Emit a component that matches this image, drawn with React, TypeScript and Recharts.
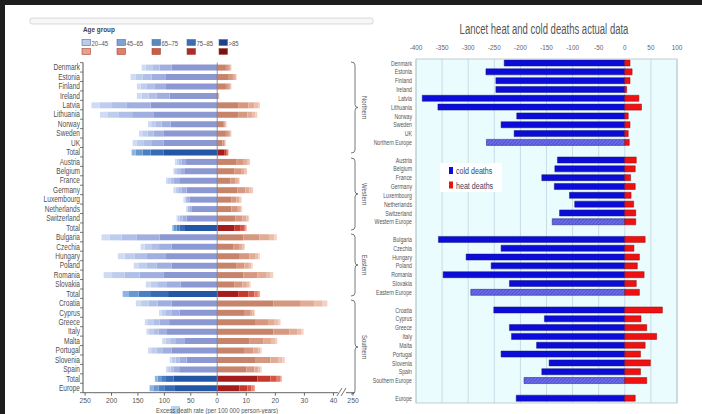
import React from "react";
import { BarChart, Bar, XAxis, YAxis, Cell, ReferenceLine, CartesianGrid, Legend } from "recharts";

const FONT = "'Liberation Sans', Arial, sans-serif";

// ---- left panel: excess deaths per 100 000 by age group ----
const countries = [
    "Denmark", "Estonia", "Finland", "Ireland", "Latvia", "Lithuania", "Norway", "Sweden", "UK", "Total",
    "Austria", "Belgium", "France", "Germany", "Luxembourg", "Netherlands", "Switzerland", "Total",
    "Bulgaria", "Czechia", "Hungary", "Poland", "Romania", "Slovakia", "Total",
    "Croatia", "Cyprus", "Greece", "Italy", "Malta", "Portugal", "Slovenia", "Spain", "Total",
    "Europe",
];
const ageGroups = ["20–45", "45–65", "65–75", "75–85", ">85"];

// cold (per age group, >85 is nearest zero)
const cold85 = [86, 97, 97, 90, 126, 121, 88, 102, 101, 101, 59, 61, 72, 58, 52, 49, 58, 61, 109, 86, 97, 86, 102, 69, 93, 86, 71, 91, 95, 61, 86, 58, 72, 83, 80];
const cold75 = [23, 27, 22, 25, 45, 40, 17, 18, 24, 25, 8, 9, 10, 10, 5, 4, 8, 10, 44, 24, 36, 29, 45, 26, 34, 27, 16, 18, 16, 17, 18, 13, 10, 14, 19];
const cold65 = [14, 17, 14, 15, 28, 25, 11, 12, 15, 15, 6, 6, 6, 6, 3, 3, 5, 6, 28, 15, 23, 18, 28, 17, 22, 17, 10, 12, 10, 11, 11, 8, 6, 9, 12];
const cold45 = [12, 14, 12, 13, 24, 22, 9, 10, 12, 13, 4, 4, 5, 5, 2, 2, 4, 5, 23, 12, 19, 15, 24, 14, 18, 14, 8, 10, 8, 9, 10, 7, 5, 7, 10];
const cold20 = [8, 9, 7, 9, 15, 14, 6, 6, 8, 8, 3, 3, 4, 4, 2, 1, 2, 3, 15, 8, 13, 10, 16, 9, 12, 10, 5, 6, 5, 6, 6, 4, 4, 5, 7];

// heat
const heat85 = [3.0, 4.0, 3.0, 0.4, 7.2, 7.2, 2.0, 3.0, 1.8, 2.4, 6.5, 6.0, 4.5, 7.0, 4.8, 4.9, 6.3, 6.0, 9.0, 5.5, 7.5, 6.5, 9.0, 6.0, 7.2, 19.3, 9.5, 13, 19.3, 11, 9.2, 13, 10, 13.8, 7.6];
const heat75 = [1.0, 1.4, 1.0, 0.15, 3.5, 3.2, 0.6, 1.0, 0.6, 0.8, 2.4, 2.2, 1.7, 2.7, 1.8, 1.9, 2.4, 2.1, 5.5, 2.0, 3.5, 2.8, 4.8, 2.7, 3.6, 9.2, 1.8, 4.5, 5.5, 5.0, 3.2, 5.3, 2.8, 4.5, 2.8];
const heat65 = [0.5, 0.7, 0.5, 0.08, 2.0, 1.8, 0.3, 0.5, 0.3, 0.4, 1.3, 1.1, 0.9, 1.4, 1.0, 1.0, 1.3, 1.1, 3.3, 1.1, 2.0, 1.6, 3.0, 1.5, 2.0, 5.0, 0.9, 2.3, 2.7, 2.5, 1.6, 2.7, 1.4, 2.2, 1.4];
const heat45 = [0.3, 0.4, 0.3, 0.05, 1.3, 1.0, 0.2, 0.3, 0.15, 0.2, 0.7, 0.6, 0.5, 0.8, 0.5, 0.5, 0.6, 0.6, 1.8, 0.6, 1.1, 0.8, 1.6, 0.8, 1.2, 2.8, 0.5, 1.3, 1.4, 1.4, 0.8, 1.5, 0.7, 1.1, 0.8];
const heat20 = [0.1, 0.2, 0.1, 0.02, 0.7, 0.6, 0.1, 0.1, 0.05, 0.1, 0.4, 0.4, 0.2, 0.5, 0.3, 0.3, 0.4, 0.3, 0.9, 0.3, 0.6, 0.5, 0.9, 0.5, 0.7, 1.6, 0.3, 0.7, 0.8, 0.8, 0.5, 0.8, 0.4, 0.6, 0.4];

const coldTicks = [250, 200, 150, 100, 50, 0];
const heatTicks = [10, 20, 30, 40];
const breakTickLabel = "250";

// ---- right panel: Lancet heat and cold deaths actual data ----
const regions = [
    "Denmark", "Estonia", "Finland", "Ireland", "Latvia", "Lithuania", "Norway", "Sweden", "UK", "Northern Europe", "",
    "Austria", "Belgium", "France", "Germany", "Luxembourg", "Netherlands", "Switzerland", "Western Europe", "",
    "Bulgaria", "Czechia", "Hungary", "Poland", "Romania", "Slovakia", "Eastern Europe", "",
    "Croatia", "Cyprus", "Greece", "Italy", "Malta", "Portugal", "Slovenia", "Spain", "Southern Europe", "",
    "Europe",
];
const coldDeaths = [-231, -266, -247, -247, -388, -358, -207, -237, -212, -265, null, -129, -134, -159, -135, -106, -96, -125, -139, null, -357, -237, -304, -256, -348, -221, -295, null, -251, -154, -221, -217, -169, -237, -145, -159, -193, null, -208];
const heatDeaths = [10, 14, 10, 3.5, 27, 32, 6.6, 10, 6.6, 8.6, null, 22, 20, 11, 20, 12, 17, 21, 21, null, 39, 17.5, 28, 24, 37, 22, 28, null, 72, 31, 42, 61, 39, 30, 49, 30, 42, null, 20];
const rightTicks = [-400, -350, -300, -250, -200, -150, -100, -50, 0, 50, 100];

// broken axis: heat side drawn 5.5x wider than cold side
const HEAT_SCALE = 5.5;
const BREAK_POS = 257;

const coldSoft = ["#8c98d2", "#a0aee0", "#afbfe8", "#becdee", "#cfdbf3"];
const coldStrong = ["#2456a6", "#386ab6", "#4b7fc3", "#6898d2", "#90b4e0"];
const heatSoft = ["#c8846a", "#d69880", "#e2ab95", "#ebbdab", "#f3d0c3"];
const heatStrong = ["#a51c1c", "#c4382c", "#d65646", "#e47a6a", "#eea497"];
const legendBlue = ["#b9cde9", "#7ea3d2", "#5a88c0", "#3d6cb0", "#1f3f8f"];
const legendRed = ["#eaa088", "#e07e66", "#cf5a48", "#b02a28", "#7a1212"];

const coldSeries = [cold85, cold75, cold65, cold45, cold20];
const heatSeries = [heat85, heat75, heat65, heat45, heat20];

const leftData = countries.map((name, i) => {
    const row: any = { id: i, name };
    coldSeries.forEach((s, k) => { row["c" + k] = -s[i]; });
    heatSeries.forEach((s, k) => { row["h" + k] = s[i] * HEAT_SCALE; });
    return row;
});
const leftTickPos = [...coldTicks.map((v) => -v), ...heatTicks.map((v) => v * HEAT_SCALE), BREAK_POS];
const leftTickLabels = [...coldTicks.map(String), ...heatTicks.map(String), breakTickLabel];

const rightData = regions.map((name, i) => ({ id: i, name, cold: coldDeaths[i], heat: heatDeaths[i] }));

const isTotal = (name: string) => name === "Total" || name === "Europe";
const isAggregate = (name: string) => name.endsWith(" Europe");

// narrow text: the figure uses a condensed face, squeeze a normal one
function NText(props: any) {
    const { x, y, size, fill = "#555", anchor = "start", sx = 0.8, weight, children } = props;
    return (
        <text transform={`translate(${x},${y}) scale(${sx},1)`} textAnchor={anchor} fontSize={size}
            fill={fill} fontFamily={FONT} fontWeight={weight}>{children}</text>
    );
}

function LeftTick(props: any) {
    const { x, y, payload } = props;
    const ax = x + 3;
    return (
        <g>
            <NText x={x} y={y + 3} anchor="end" size={8.2} fill="#505050" sx={0.8}>{countries[payload.value]}</NText>
            <line x1={ax - 3} x2={ax} y1={y - 4.7} y2={y - 4.7} stroke="#555" strokeWidth={0.8} />
            {payload.value === countries.length - 1 && (
                <line x1={ax - 3} x2={ax} y1={y + 4.7} y2={y + 4.7} stroke="#555" strokeWidth={0.8} />
            )}
        </g>
    );
}

function RightTick(props: any) {
    const { x, y, payload } = props;
    return <NText x={x} y={y + 2.2} anchor="end" size={6.5} fill="#555" sx={0.8}>{regions[payload.value]}</NText>;
}

function BottomTick(props: any) {
    const { x, y, index } = props;
    return <NText x={x} y={y + 6} anchor="middle" size={8} fill="#555" sx={0.85}>{leftTickLabels[index]}</NText>;
}

function TopTick(props: any) {
    const { x, y, payload } = props;
    return <NText x={x} y={y - 1} anchor="middle" size={7.5} fill="#666" sx={0.85}>{payload.value}</NText>;
}

function RightLegend() {
    return (
        <svg width={80} height={29} style={{ display: "block", overflow: "visible" }}>
            <rect x={0} y={0} width={62} height={29} fill="#fff" />
            <rect x={9} y={4} width={4} height={7} fill="#0c0cd9" />
            <NText x={16} y={11} size={9.5} fill="#3a3f66" sx={0.75}>cold deaths</NText>
            <rect x={9} y={18.5} width={4} height={7} fill="#ee1111" />
            <NText x={16} y={25.5} size={9.5} fill="#3a3f66" sx={0.75}>heat deaths</NText>
        </svg>
    );
}

function Brace(props: { y1: number; y2: number; label: string }) {
    const { y1, y2, label } = props;
    const x0 = 351, x1 = 355, x2 = 358, r = 3;
    const ym = (y1 + y2) / 2;
    const d = `M${x0},${y1} Q${x1},${y1} ${x1},${y1 + r} L${x1},${ym - r} Q${x1},${ym} ${x2},${ym} Q${x1},${ym} ${x1},${ym + r} L${x1},${y2 - r} Q${x1},${y2} ${x0},${y2}`;
    return (
        <g>
            <path d={d} fill="none" stroke="#555" strokeWidth={0.8} />
            <g transform={`rotate(90 364 ${ym})`}>
                <NText x={364} y={ym + 2.5} anchor="middle" size={7} fill="#555" sx={0.85}>{label}</NText>
            </g>
        </g>
    );
}

export default function App() {
    const legendX = [82, 117, 152, 187, 219];
    return (
        <div style={{ position: "absolute", left: 0, top: 0, width: 702, height: 414, background: "#fff", overflow: "hidden" }}>
            <div style={{ position: "absolute", left: 0, top: 0, width: 702, height: 5, background: "#1e1e1e" }} />
            <div style={{ position: "absolute", left: 0, top: 0, width: 5, height: 414, background: "#1e1e1e" }} />

            <div style={{ position: "absolute", left: 0, top: 0 }}>
                <BarChart width={380} height={414} data={leftData} layout="vertical" stackOffset="sign"
                    margin={{ top: 62.6, right: 25.4, bottom: 7.3, left: 0 }} barSize={6}>
                    <XAxis type="number" domain={[-254, 260]} ticks={leftTickPos} allowDataOverflow height={14}
                        interval={0} tick={<BottomTick />} tickSize={3} tickMargin={1} stroke="#666" />
                    <YAxis type="category" dataKey="id" width={83} interval={0} tickLine={false} tickSize={0} tickMargin={3}
                        axisLine={{ stroke: "#555" }} tick={<LeftTick />} />
                    <ReferenceLine x={0} stroke="#777" strokeWidth={0.8} />
                    {coldSeries.map((_, k) => (
                        <Bar key={"c" + k} dataKey={"c" + k} stackId="s" isAnimationActive={false}>
                            {leftData.map((row) => (
                                <Cell key={row.id} fill={isTotal(row.name) ? coldStrong[k] : coldSoft[k]} />
                            ))}
                        </Bar>
                    ))}
                    {heatSeries.map((_, k) => (
                        <Bar key={"h" + k} dataKey={"h" + k} stackId="s" isAnimationActive={false}>
                            {leftData.map((row) => (
                                <Cell key={row.id} fill={isTotal(row.name) ? heatStrong[k] : heatSoft[k]} />
                            ))}
                        </Bar>
                    ))}
                </BarChart>
            </div>

            <div style={{ position: "absolute", left: 360, top: 0 }}>
                <BarChart width={342} height={414} data={rightData} layout="vertical" stackOffset="sign"
                    margin={{ top: 45, right: 25, bottom: 11, left: 0 }} barSize={6}>
                    <defs>
                        <pattern id="hatch" width="2.5" height="2.5" patternUnits="userSpaceOnUse" patternTransform="rotate(45)">
                            <rect width="2.5" height="2.5" fill="#6c6ce6" />
                            <line x1="0" y1="0" x2="0" y2="2.5" stroke="#3c3cd2" strokeWidth="1.1" />
                        </pattern>
                    </defs>
                    <CartesianGrid horizontal={false} stroke="#c8dce6" fill="#eafcfd" />
                    <XAxis type="number" orientation="top" domain={[-400, 100]} ticks={rightTicks} interval={0}
                        tickLine={false} axisLine={false} height={14} tickSize={0} tickMargin={8} tick={<TopTick />} />
                    <YAxis type="category" dataKey="id" width={56} interval={0} tickLine={false} axisLine={false}
                        tickSize={0} tickMargin={4} tick={<RightTick />} />
                    <Legend layout="horizontal" verticalAlign="middle" align="center" content={<RightLegend />}
                        wrapperStyle={{ left: 80, top: 163, width: 62, height: 29 }} />
                    <Bar dataKey="cold" name="cold deaths" stackId="r" fill="#0c0cd9" stroke="#16167a" strokeWidth={0.5} isAnimationActive={false}>
                        {rightData.map((row) => (
                            <Cell key={row.id} fill={isAggregate(row.name) ? "url(#hatch)" : "#0c0cd9"} />
                        ))}
                    </Bar>
                    <Bar dataKey="heat" name="heat deaths" stackId="r" fill="#ee1111" stroke="#a00000" strokeWidth={0.5} isAnimationActive={false} />
                </BarChart>
            </div>

            <svg width={702} height={414} style={{ position: "absolute", left: 0, top: 0, pointerEvents: "none" }}>
                {/* top strip of the left figure */}
                <rect x={30} y={18} width={343} height={6} rx={2} fill="#f7f7f7" stroke="#cfcfcf" strokeWidth={0.8} />

                {/* age group legend */}
                <NText x={83} y={32} size={7.5} weight="bold" fill="#444" sx={0.85}>Age group</NText>
                {ageGroups.map((g, k) => (
                    <g key={g}>
                        <rect x={legendX[k]} y={39.5} width={8.5} height={6} fill={legendBlue[k]} stroke="#4a6fa8" strokeWidth={0.6} />
                        <NText x={legendX[k] + 9.5} y={45.5} size={7.5} fill="#555" sx={0.8}>{g}</NText>
                        <rect x={legendX[k]} y={48.5} width={8.5} height={6} fill={legendRed[k]} stroke="#a04a3a" strokeWidth={0.6} />
                    </g>
                ))}

                {/* region braces */}
                <Brace y1={62} y2={153} label="Northern" />
                <Brace y1={158} y2={230} label="Western" />
                <Brace y1={234} y2={296} label="Eastern" />
                <Brace y1={300} y2={394} label="Southern" />

                {/* axis break */}
                <rect x={338} y={389} width={8} height={6} fill="#fff" />
                <line x1={337} y1={396} x2={342} y2={388} stroke="#555" strokeWidth={0.8} />
                <line x1={341} y1={396} x2={346} y2={388} stroke="#555" strokeWidth={0.8} />

                {/* axis title */}
                <rect x={171} y={406} width={9} height={8} fill="#b6d2f4" />
                <NText x={217} y={413} anchor="middle" size={7.5} fill="#555" sx={0.8}>
                    Excess death rate (per 100 000 person-years)
                </NText>

                {/* right panel title and frame */}
                <NText x={544} y={34} anchor="middle" size={14} fill="#555" sx={0.68}>
                    Lancet heat and cold deaths actual data
                </NText>
                <rect x={416} y={59} width={261} height={344} fill="none" stroke="#b3c0c6" strokeWidth={0.8} />
            </svg>
        </div>
    );
}
